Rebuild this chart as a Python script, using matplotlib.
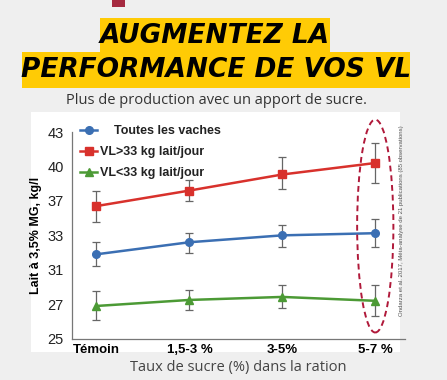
import numpy as np
import matplotlib.pyplot as plt
from matplotlib.patches import Rectangle, Ellipse
from matplotlib import transforms

categories = ["Témoin", "1,5-3 %", "3-5%", "5-7 %"]
yticks = [25, 27, 31, 33, 37, 40, 43]

toutes = [31.9, 32.6, 33.0, 33.25]
toutes_lo = [31.2, 32.0, 32.35, 32.35]
toutes_hi = [32.6, 33.25, 34.2, 34.95]

vl_sup = [36.4, 37.9, 39.3, 40.3]
vl_sup_lo = [34.6, 37.0, 38.0, 38.6]
vl_sup_hi = [37.9, 38.8, 40.8, 42.0]

vl_inf = [26.9, 27.5, 27.85, 27.4]
vl_inf_lo = [26.1, 26.65, 26.8, 26.3]
vl_inf_hi = [28.5, 28.7, 29.2, 29.2]

series = [
    ("    Toutes les vaches", toutes, toutes_lo, toutes_hi, "#3b6fb3", "o"),
    ("VL>33 kg lait/jour", vl_sup, vl_sup_lo, vl_sup_hi, "#d8312c", "s"),
    ("VL<33 kg lait/jour", vl_inf, vl_inf_lo, vl_inf_hi, "#4c9a35", "^"),
]

# the y axis in the source puts its labels at equal steps
idx = np.arange(len(yticks))


def fwd(v):
    return np.interp(v, yticks, idx)


def inv(i):
    return np.interp(i, idx, yticks)


plt.rcParams['font.family'] = ['Liberation Sans', 'DejaVu Sans']

fig = plt.figure(figsize=(4.47, 3.8), dpi=100)
fig.patch.set_facecolor("#efefef")

# white panel behind the chart
fig.patches.append(Rectangle((0.07, 0.075), 0.825, 0.63, transform=fig.transFigure,
                             facecolor="white", edgecolor="none", zorder=0))

# title blocks
fig.patches.append(Rectangle((100 / 447, 1 - 52 / 380), 230 / 447, 34 / 380,
                             transform=fig.transFigure, facecolor="#ffcb05",
                             edgecolor="none", zorder=1))
fig.patches.append(Rectangle((22 / 447, 1 - 88 / 380), 388 / 447, 36 / 380,
                             transform=fig.transFigure, facecolor="#ffcb05",
                             edgecolor="none", zorder=1))
fig.text(215 / 447, 1 - 36 / 380, "AUGMENTEZ LA", ha="center", va="center",
         fontsize=19, fontweight="bold", style="italic", color="black",
         family="DejaVu Sans", zorder=2)
fig.text(216 / 447, 1 - 70 / 380, "PERFORMANCE DE VOS VL", ha="center", va="center",
         fontsize=19, fontweight="bold", style="italic", color="black",
         family="DejaVu Sans", zorder=2)
fig.text(216 / 447, 1 - 101 / 380, "Plus de production avec un apport de sucre.",
         ha="center", va="center", fontsize=10.5, family="Open Sans", color="#333333")

# small red mark at the top
fig.patches.append(Rectangle((112 / 447, 1 - 7 / 380), 13 / 447, 7 / 380,
                             transform=fig.transFigure, facecolor="#a52a40",
                             edgecolor="none"))

ax = fig.add_axes([72.3 / 447, 1 - 338.7 / 380, (405 - 72.3) / 447, (338.7 - 132) / 380])
ax.set_zorder(3)
ax.patch.set_alpha(0)
ax.set_yscale("function", functions=(fwd, inv))
ax.set_ylim(25, 43)
ax.set_xlim(-0.26, 3.32)

x = np.arange(len(categories))
for name, vals, lo, hi, col, mk in series:
    vals = np.array(vals)
    err = [vals - np.array(lo), np.array(hi) - vals]
    ax.errorbar(x, vals, yerr=err, fmt="none", ecolor="#666666", elinewidth=0.9,
                capsize=3, capthick=0.9, zorder=2)
    ax.plot(x, vals, color=col, marker=mk, markersize=5.5, linewidth=1.8,
            label=name, zorder=3)

ax.set_yticks(yticks)
ax.set_yticklabels([str(t) for t in yticks])
ax.yaxis.set_minor_locator(plt.NullLocator())
ax.set_xticks(x)
ax.set_xticklabels(categories, fontweight="bold", fontsize=9.5)
ax.tick_params(axis="both", length=0, pad=4)
ax.tick_params(axis="y", labelsize=10.5, pad=6, labelcolor="#222222")
for s in ["top", "right"]:
    ax.spines[s].set_visible(False)
for s in ["left", "bottom"]:
    ax.spines[s].set_color("#777777")
    ax.spines[s].set_linewidth(0.9)

ax.set_ylabel("Lait à 3,5% MG, kg/l", fontweight="bold", fontsize=9, labelpad=4)
ax.set_xlabel("Taux de sucre (%) dans la ration", family="Open Sans", fontsize=10.5,
              color="#444444", labelpad=3)

leg = ax.legend(loc="upper left", bbox_to_anchor=(0.0, 1.07), frameon=False,
                fontsize=9, handlelength=1.4, handletextpad=0.2, labelspacing=0.72,
                borderaxespad=0.2)
for t in leg.get_texts():
    t.set_fontweight("bold")
    t.set_color("#222222")

# dashed ellipse around the last group
trans = transforms.blended_transform_factory(ax.transData, ax.transAxes)
ax.add_patch(Ellipse((3, 0.545), 0.39, 1.03, transform=trans, fill=False,
                     edgecolor="#b0193a", linestyle=(0, (3, 2)), linewidth=1.4,
                     clip_on=False, zorder=4))

ax.text(0.99, 0.57, "Ondarza et al. 2017, Méta-analyse de 21 publications (85 observations)",
        transform=ax.transAxes, rotation=90, ha="center", va="center",
        fontsize=4.3, color="#555555")

fig.savefig("out.png", dpi=100, facecolor=fig.get_facecolor())
